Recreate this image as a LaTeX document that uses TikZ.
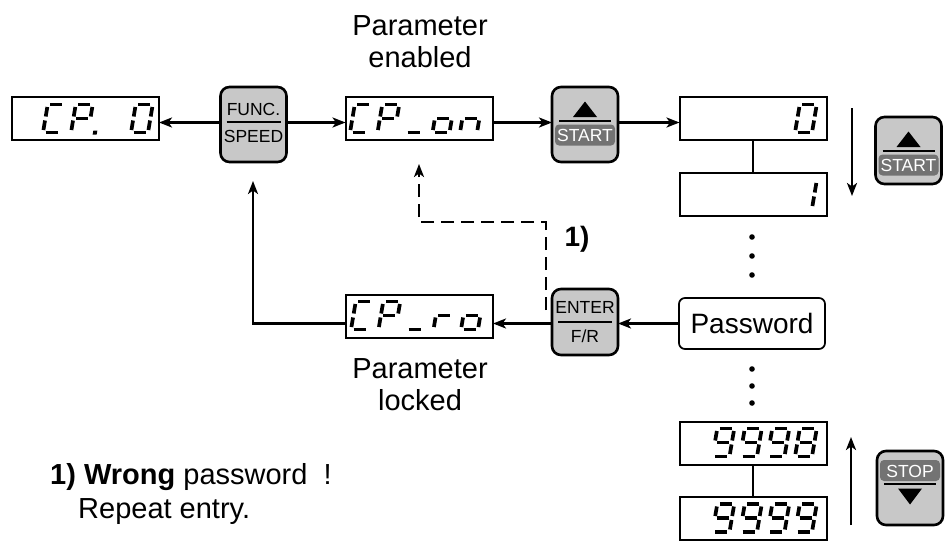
\documentclass[tikz,border=0pt]{standalone}
\usepackage{fontspec}
\setmainfont{Liberation Sans}
\usetikzlibrary{arrows.meta,calc}
\definecolor{keygray}{HTML}{C8C8C8}
\definecolor{keydark}{HTML}{737373}
% seven-segment segments (local coords, y up)
\newcommand{\sgA}{\draw[segline] (2.5,28)--(14.5,28);}
\newcommand{\sgB}{\draw[segline] (17,25.5)--(17,16);}
\newcommand{\sgC}{\draw[segline] (17,12)--(17,2.5);}
\newcommand{\sgD}{\draw[segline] (2.5,0)--(14.5,0);}
\newcommand{\sgE}{\draw[segline] (0,2.5)--(0,12);}
\newcommand{\sgF}{\draw[segline] (0,16)--(0,25.5);}
\newcommand{\sgG}{\draw[segline] (2.5,14)--(14.5,14);}
\newcommand{\sgDP}{\fill (22,-2) rectangle (26,2);}
\newcommand{\segdigit}[3]{\begin{scope}[shift={(#1,#2)},x=1pt,y=1pt,xslant=0.17]\foreach \s in {#3}{\csname sg\s\endcsname}\end{scope}}
\newcommand{\startface}[1]{%
  \fill ($(#1.north)+(0,14.5)$) -- ($(#1.north)+(-12,30)$) -- ($(#1.north)+(12,30)$) -- cycle;
  \draw[keyline] ($(#1.north)+(-26,34)$) -- ($(#1.north)+(26,34)$);
  \fill[darkbar] ($(#1.north)+(-30,37.5)$) rectangle ($(#1.north)+(30,58.5)$);
  \node[keylbl] (#1T) at ($(#1.north)+(0,54.5)$) {START};}
\begin{document}
\begin{tikzpicture}[x=1pt,y=-1pt,
  disp/.style={draw,line width=2pt,minimum width=147pt,minimum height=43pt,inner sep=0pt,outer sep=0pt},
  keybox/.style={draw,line width=2.6pt,rounded corners=9pt,fill=keygray,minimum width=66pt,inner sep=0pt,outer sep=0pt},
  keytxt/.style={font=\fontsize{17.5}{18}\selectfont,inner sep=0pt,anchor=base},
  keylbl/.style={keytxt,text=white},
  darkbar/.style={fill=keydark,rounded corners=4pt},
  keyline/.style={line width=2pt},
  arr/.style={line width=2.4pt,-{Stealth[length=13pt,width=10pt,inset=3.5pt]}},
  conn/.style={line width=2.4pt},
  dashconn/.style={line width=2.4pt,dash pattern=on 13pt off 7pt,-{Stealth[length=13pt,width=10pt,inset=3.5pt]}},
  segline/.style={line width=3.7pt},
  lbl/.style={font=\fontsize{29}{34}\selectfont,inner sep=0pt,anchor=base},
  pwbox/.style={draw,line width=1.7pt,rounded corners=6pt,minimum width=146pt,minimum height=51pt,inner sep=0pt,font=\fontsize{28}{32}\selectfont}]
\fill[white] (0,0) rectangle (950,541);
\useasboundingbox (0,0) rectangle (950,541);

% displays
\node[disp] (cp0) at (85.5,118.5) {};
\node[disp] (cpon) at (419,118.5) {};
\node[disp] (d0) at (753,118.5) {};
\node[disp] (d1) at (753,194.5) {};
\node[pwbox] (pw) at (752,323.5) {Password};
\node[disp] (d9998) at (753,443) {};
\node[disp] (d9999) at (753,518.5) {};
\node[disp] (cpro) at (419.5,316) {};

% display contents
\segdigit{43}{132.5}{A,D,E,F}
\segdigit{71}{132.5}{A,B,E,F,G,DP}
\segdigit{131}{132.5}{A,B,C,D,E,F}
\segdigit{350}{132.5}{A,D,E,F}
\segdigit{377.5}{132.5}{A,B,E,F,G}
\segdigit{405}{132.5}{D}
\segdigit{432.5}{132.5}{C,D,E,G}
\segdigit{460}{132.5}{C,E,G}
\segdigit{795}{132.5}{A,B,C,D,E,F}
\segdigit{795}{208.5}{B,C}
\segdigit{712.5}{456.5}{A,B,C,D,F,G}
\segdigit{740}{456.5}{A,B,C,D,F,G}
\segdigit{767.5}{456.5}{A,B,C,D,F,G}
\segdigit{795}{456.5}{A,B,C,D,E,F,G}
\segdigit{712.5}{532}{A,B,C,D,F,G}
\segdigit{740}{532}{A,B,C,D,F,G}
\segdigit{767.5}{532}{A,B,C,D,F,G}
\segdigit{795}{532}{A,B,C,D,F,G}
\segdigit{351}{329.5}{A,D,E,F}
\segdigit{378.5}{329.5}{A,B,E,F,G}
\segdigit{406}{329.5}{D}
\segdigit{433.5}{329.5}{E,G}
\segdigit{461}{329.5}{C,D,E,G}

% keys
\node[keybox,minimum height=75pt] (func) at (253.5,124.5) {};
\node[keytxt] (funcA) at ($(func.center)+(0,-9)$) {FUNC.};
\draw[keyline] ($(func.center)+(-27,-2.5)$) -- ($(func.center)+(27,-2.5)$);
\node[keytxt] (funcB) at ($(func.center)+(0,18)$) {SPEED};

\node[keybox,minimum height=75pt] (start) at (585,124.5) {};
\startface{start}
\node[keybox,minimum height=67pt] (starttwo) at (908.5,150.5) {};
\startface{starttwo}

\node[keybox,minimum height=66pt] (enter) at (585,322) {};
\node[keytxt] (enterA) at ($(enter.center)+(0,-8.5)$) {ENTER};
\draw[keyline] ($(enter.center)+(-27,0)$) -- ($(enter.center)+(27,0)$);
\node[keytxt] (enterB) at ($(enter.center)+(0,20)$) {F/R};

\node[keybox,minimum height=74pt] (stop) at (910,488) {};
\fill[darkbar] ($(stop.north)+(-30,9)$) rectangle ($(stop.north)+(30,30)$);
\node[keylbl] (stopT) at ($(stop.north)+(0,26)$) {STOP};
\draw[keyline] ($(stop.north)+(-26,33)$) -- ($(stop.north)+(26,33)$);
\fill ($(stop.north)+(0,53.5)$) -- ($(stop.north)+(-12,37.5)$) -- ($(stop.north)+(12,37.5)$) -- cycle;

% connectors
\draw[arr] ([yshift=2pt]func.west) -- ([yshift=2pt]func.west -| cp0.east);
\draw[arr] ([yshift=2pt]func.east) -- ([yshift=2pt]func.east -| cpon.west);
\draw[arr] ([yshift=2pt]start.west -| cpon.east) -- ([yshift=2pt]start.west);
\draw[arr] ([yshift=2pt]start.east) -- ([yshift=2pt]start.east -| d0.west);
\draw[conn] (d0.south) -- (d1.north);
\draw[conn] (d9998.south) -- (d9999.north);
\coordinate (rowB) at (0,323.5);
\draw[arr] (pw.west) -- (pw.west -| enter.east);
\draw[arr] (enter.west |- rowB) -- (cpro.east |- rowB);
\coordinate (upTip) at (253,181);
\draw[arr] (cpro.west |- rowB) -| (upTip);
\coordinate (dStart) at (546,310);
\coordinate (dCorner) at (546,222);
\coordinate (dTip) at (419,164);
\draw[dashconn] (dStart) -- (dCorner) -| (dTip);
\coordinate (dnA) at (852,108);
\coordinate (dnB) at (852,196);
\draw[arr] (dnA) -- (dnB);
\coordinate (upA) at (851,525);
\coordinate (upB) at (851,437);
\draw[arr] (upA) -- (upB);

% dots
\foreach \yy in {237,256,275,369,386,403} \fill (752,\yy) circle (2.8);

% labels
\node[lbl] (en1) at (420,35) {Parameter};
\node[lbl] (en2) at (420,67) {enabled};
\node[lbl] (lk1) at (420,378) {Parameter};
\node[lbl] (lk2) at (420,410) {locked};
\node[lbl,font=\bfseries\fontsize{28}{32}\selectfont] (one) at (577,246) {1)};
\node[lbl,anchor=base west] (note1) at (50,484) {\textbf{1) Wrong} password~~!};
\node[lbl,anchor=base west] (note2) at (78,518) {Repeat entry.};
\end{tikzpicture}
\end{document}
